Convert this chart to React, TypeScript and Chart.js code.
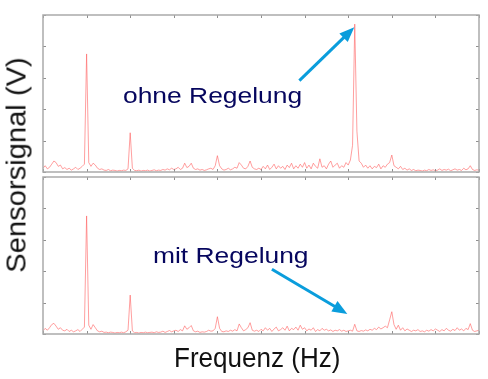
import React, { useEffect, useRef } from "react";
import { Chart, registerables } from "chart.js";

Chart.register(...registerables);

// Frequency axis ticks (arbitrary units, no labels shown in the reference)
const FREQ_TICKS = [0, 20, 40, 60, 80, 100, 120, 140, 160, 180, 200];
// Signal axis ticks (arbitrary units, no labels shown)
const LEVEL_TICKS = [0, 1, 2, 3, 4, 5];

// Spectrum without control ("ohne Regelung")
const TOP_SIGNAL = [
  0.12, 0.2, 0.1, 0.15, 0.25, 0.35, 0.3, 0.18, 0.22, 0.1,
  0.14, 0.08, 0.12, 0.06, 0.1, 0.15, 0.08, 0.12, 0.18, 0.25,
  3.76, 0.3, 0.18, 0.28, 0.22, 0.12, 0.08, 0.1, 0.06, 0.05,
  0.08, 0.04, 0.06, 0.05, 0.03, 0.05, 0.04, 0.06, 0.05, 0.1,
  1.25, 0.12, 0.05, 0.04, 0.06, 0.03, 0.05, 0.04, 0.06, 0.03,
  0.05, 0.07, 0.04, 0.06, 0.05, 0.08, 0.06, 0.1, 0.07, 0.12,
  0.08, 0.1, 0.15, 0.08, 0.12, 0.28, 0.14, 0.18, 0.28, 0.12,
  0.08, 0.1, 0.06, 0.08, 0.05, 0.07, 0.1, 0.12, 0.08, 0.2,
  0.52, 0.2, 0.1, 0.06, 0.08, 0.12, 0.07, 0.1, 0.15, 0.12,
  0.3, 0.22, 0.12, 0.1, 0.18, 0.35, 0.15, 0.1, 0.08, 0.12,
  0.08, 0.18, 0.1, 0.22, 0.08, 0.15, 0.25, 0.1, 0.2, 0.12,
  0.18, 0.08, 0.22, 0.14, 0.28, 0.1, 0.2, 0.12, 0.25, 0.15,
  0.3, 0.12, 0.22, 0.1, 0.28, 0.18, 0.12, 0.42, 0.15, 0.2,
  0.1, 0.25, 0.35, 0.15, 0.22, 0.28, 0.12, 0.2, 0.15, 0.3,
  0.22, 0.38, 0.85, 4.71, 1.3, 0.35, 0.28, 0.15, 0.22, 0.12,
  0.2, 0.1, 0.18, 0.14, 0.25, 0.1, 0.2, 0.15, 0.25, 0.3,
  0.54, 0.2, 0.15, 0.1, 0.18, 0.08, 0.12, 0.06, 0.1, 0.05,
  0.08, 0.04, 0.06, 0.05, 0.03, 0.06, 0.04, 0.08, 0.05, 0.07,
  0.04, 0.06, 0.1, 0.05, 0.08, 0.06, 0.09, 0.04, 0.07, 0.1,
  0.06, 0.08, 0.05, 0.12, 0.07, 0.1, 0.2, 0.08, 0.05, 0.07,
  0.06,
];

// Spectrum with control ("mit Regelung")
const BOTTOM_SIGNAL = [
  0.1, 0.18, 0.12, 0.2, 0.3, 0.34, 0.25, 0.15, 0.2, 0.12,
  0.1, 0.15, 0.08, 0.12, 0.07, 0.1, 0.14, 0.08, 0.15, 0.22,
  3.76, 0.28, 0.15, 0.3, 0.2, 0.1, 0.07, 0.09, 0.05, 0.06,
  0.04, 0.06, 0.05, 0.03, 0.05, 0.04, 0.06, 0.04, 0.07, 0.12,
  1.24, 0.1, 0.04, 0.05, 0.03, 0.05, 0.04, 0.06, 0.04, 0.05,
  0.06, 0.04, 0.07, 0.05, 0.06, 0.09, 0.05, 0.08, 0.11, 0.07,
  0.1, 0.12, 0.08, 0.14, 0.1, 0.26, 0.15, 0.2, 0.27, 0.1,
  0.07, 0.09, 0.05, 0.07, 0.06, 0.08, 0.12, 0.09, 0.1, 0.18,
  0.55, 0.18, 0.08, 0.07, 0.1, 0.08, 0.12, 0.09, 0.14, 0.1,
  0.32, 0.2, 0.1, 0.14, 0.2, 0.36, 0.12, 0.09, 0.12, 0.08,
  0.15, 0.1, 0.2, 0.12, 0.18, 0.08, 0.16, 0.22, 0.1, 0.14,
  0.2, 0.12, 0.25, 0.1, 0.18, 0.14, 0.22, 0.12, 0.28, 0.15,
  0.2, 0.1, 0.16, 0.12, 0.2, 0.08, 0.14, 0.1, 0.18, 0.12,
  0.15, 0.1, 0.13, 0.08, 0.12, 0.1, 0.14, 0.09, 0.12, 0.08,
  0.1, 0.12, 0.09, 0.31, 0.1, 0.08, 0.11, 0.09, 0.13, 0.1,
  0.15, 0.12, 0.18, 0.14, 0.22, 0.16, 0.2, 0.25, 0.2, 0.45,
  0.71, 0.3, 0.15, 0.28, 0.12, 0.2, 0.1, 0.16, 0.12, 0.08,
  0.12, 0.1, 0.14, 0.08, 0.1, 0.07, 0.12, 0.09, 0.14, 0.1,
  0.16, 0.12, 0.08, 0.14, 0.1, 0.18, 0.12, 0.09, 0.15, 0.11,
  0.2, 0.12, 0.16, 0.1, 0.18, 0.14, 0.33, 0.12, 0.08, 0.1,
  0.12,
];

const FREQ = TOP_SIGNAL.map((_, i) => i);

// Annotation arrows, in data units of each panel
const TOP_ARROW = { from: [117.6, 2.91], to: [142.8, 4.61] };
const BOTTOM_ARROW = { from: [105, 2.06], to: [139.6, 0.64] };

const LINE_COLOR = "rgba(255, 95, 95, 0.6)";
const ARROW_COLOR = "#0a9ddc";

const framePlugin = {
  id: "frame",
  afterDatasetsDraw(chart: any, _args: any, opts: any) {
    const { ctx, chartArea: a, scales } = chart;
    const xs = scales.x;
    const ys = scales.y;
    ctx.save();
    // inward ticks
    ctx.strokeStyle = "#8f8f8f";
    ctx.lineWidth = 1;
    ctx.beginPath();
    for (const v of FREQ_TICKS) {
      const px = Math.round(xs.getPixelForValue(v)) + 0.5;
      ctx.moveTo(px, a.bottom);
      ctx.lineTo(px, a.bottom - 3);
      ctx.moveTo(px, a.top);
      ctx.lineTo(px, a.top + 3);
    }
    for (const v of LEVEL_TICKS) {
      const py = Math.round(ys.getPixelForValue(v)) + 0.5;
      ctx.moveTo(a.left, py);
      ctx.lineTo(a.left + 3, py);
      ctx.moveTo(a.right, py);
      ctx.lineTo(a.right - 3, py);
    }
    ctx.stroke();
    // frame
    ctx.strokeStyle = "#aaaaaa";
    ctx.lineWidth = 1.5;
    ctx.strokeRect(a.left, a.top, a.right - a.left, a.bottom - a.top);

    // arrow
    const arrow = opts && opts.arrow;
    if (arrow) {
      const x1 = xs.getPixelForValue(arrow.from[0]);
      const y1 = ys.getPixelForValue(arrow.from[1]);
      const x2 = xs.getPixelForValue(arrow.to[0]);
      const y2 = ys.getPixelForValue(arrow.to[1]);
      const ang = Math.atan2(y2 - y1, x2 - x1);
      const headLen = 15;
      const headHalf = 6;
      const bx = x2 - headLen * Math.cos(ang);
      const by = y2 - headLen * Math.sin(ang);
      ctx.strokeStyle = ARROW_COLOR;
      ctx.fillStyle = ARROW_COLOR;
      ctx.lineWidth = 3;
      ctx.lineCap = "butt";
      ctx.beginPath();
      ctx.moveTo(x1, y1);
      ctx.lineTo(bx + 2 * Math.cos(ang), by + 2 * Math.sin(ang));
      ctx.stroke();
      ctx.beginPath();
      ctx.moveTo(x2, y2);
      ctx.lineTo(bx + headHalf * Math.sin(ang), by - headHalf * Math.cos(ang));
      ctx.lineTo(bx - headHalf * Math.sin(ang), by + headHalf * Math.cos(ang));
      ctx.closePath();
      ctx.fill();
    }
    ctx.restore();
  },
};

function buildChart(canvas: HTMLCanvasElement, values: number[], padding: any, arrow: any) {
  return new Chart(canvas, {
    type: "line",
    data: {
      datasets: [
        {
          data: values.map((v, i) => ({ x: FREQ[i], y: v })),
          borderColor: LINE_COLOR,
          borderWidth: 1,
          pointRadius: 0,
          tension: 0,
          fill: false,
        },
      ],
    },
    options: {
      animation: false,
      responsive: false,
      devicePixelRatio: 1,
      layout: { padding },
      plugins: {
        legend: { display: false },
        tooltip: { enabled: false },
        frame: { arrow },
      } as any,
      scales: {
        x: { type: "linear", min: 0, max: 200, display: false },
        y: { type: "linear", min: 0, max: 5, display: false },
      },
    },
    plugins: [framePlugin],
  });
}

export default function App() {
  const topRef = useRef<HTMLCanvasElement>(null);
  const bottomRef = useRef<HTMLCanvasElement>(null);

  useEffect(() => {
    const c1 = buildChart(
      topRef.current!,
      TOP_SIGNAL,
      { left: 43, right: 9, top: 15, bottom: 207 },
      TOP_ARROW
    );
    const c2 = buildChart(
      bottomRef.current!,
      BOTTOM_SIGNAL,
      { left: 43, right: 9, top: 177, bottom: 45 },
      BOTTOM_ARROW
    );
    return () => {
      c1.destroy();
      c2.destroy();
    };
  }, []);

  const font = "'Liberation Sans', Arial, sans-serif";
  const canvasStyle: React.CSSProperties = { position: "absolute", left: 0, top: 0 };

  return (
    <div
      style={{
        position: "absolute",
        left: 0,
        top: 0,
        width: 488,
        height: 379,
        background: "#ffffff",
        overflow: "hidden",
        fontFamily: font,
      }}
    >
      <canvas ref={topRef} width={488} height={379} style={canvasStyle} />
      <canvas ref={bottomRef} width={488} height={379} style={canvasStyle} />
      <span
        style={{
          position: "absolute",
          left: 17.3,
          top: 165,
          fontSize: 27,
          lineHeight: "27px",
          whiteSpace: "nowrap",
          color: "#111111",
          transform: "translate(-50%, -50%) rotate(-90deg) scaleX(1.08)",
        }}
      >
        Sensorsignal (V)
      </span>
      <span
        style={{
          position: "absolute",
          left: 174.3,
          top: 343.6,
          fontSize: 28,
          lineHeight: "28px",
          whiteSpace: "nowrap",
          color: "#111111",
          transformOrigin: "left center",
          transform: "scaleX(0.93)",
        }}
      >
        Frequenz (Hz)
      </span>
      <span
        style={{
          position: "absolute",
          left: 123.3,
          top: 84.7,
          fontSize: 22,
          lineHeight: "22px",
          whiteSpace: "nowrap",
          color: "#06065e",
          transformOrigin: "left center",
          transform: "scaleX(1.2)",
        }}
      >
        ohne Regelung
      </span>
      <span
        style={{
          position: "absolute",
          left: 153.3,
          top: 244.7,
          fontSize: 22,
          lineHeight: "22px",
          whiteSpace: "nowrap",
          color: "#06065e",
          transformOrigin: "left center",
          transform: "scaleX(1.2)",
        }}
      >
        mit Regelung
      </span>
    </div>
  );
}
